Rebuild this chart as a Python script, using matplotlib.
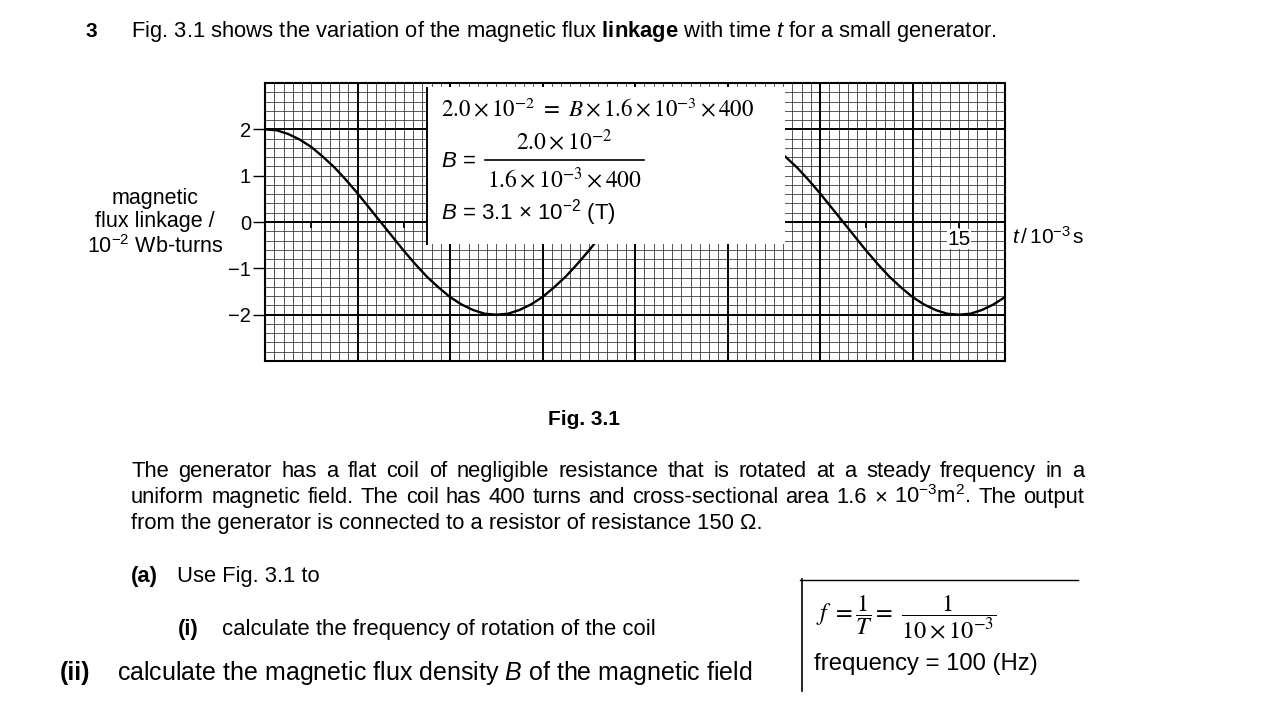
import numpy as np
import matplotlib
matplotlib.use('Agg')
import matplotlib.pyplot as plt
from matplotlib.patches import Rectangle
from matplotlib.lines import Line2D

plt.rcParams['font.family'] = ['Liberation Sans', 'DejaVu Sans']
plt.rcParams['mathtext.fontset'] = 'custom'
plt.rcParams['mathtext.rm'] = 'Liberation Sans'
plt.rcParams['mathtext.it'] = 'Liberation Sans:italic'
plt.rcParams['mathtext.bf'] = 'Liberation Sans:bold'
plt.rcParams['mathtext.sf'] = 'Liberation Sans'

# flux linkage (10^-2 Wb-turns), every 0.25 ms
t_ms = [i * 0.25 for i in range(65)]
flux = [2.00, 1.98, 1.90, 1.78, 1.62, 1.41, 1.18, 0.91, 0.62, 0.31,
        0.00, -0.31, -0.62, -0.91, -1.18, -1.41, -1.62, -1.78, -1.90, -1.98,
        -2.00, -1.98, -1.90, -1.78, -1.62, -1.41, -1.18, -0.91, -0.62, -0.31,
        0.00, 0.31, 0.62, 0.91, 1.18, 1.41, 1.62, 1.78, 1.90, 1.98,
        2.00, 1.98, 1.90, 1.78, 1.62, 1.41, 1.18, 0.91, 0.62, 0.31,
        0.00, -0.31, -0.62, -0.91, -1.18, -1.41, -1.62, -1.78, -1.90, -1.98,
        -2.00, -1.98, -1.90, -1.78, -1.62]

y_ticks = [-2, -1, 0, 1, 2]
y_ticklabels = ['\u22122', '\u22121', '0', '1', '2']
x_marks = list(range(1, 16))
x_label_at = 15

W, H = 1280, 720
fig = plt.figure(figsize=(12.8, 7.2), dpi=100)
renderer = fig.canvas.get_renderer()


def put(x, y, s, **kw):
    kw.setdefault('va', 'baseline')
    return fig.text(x / W, 1 - y / H, s, **kw)


def justify(line, x0, x1, y, **kw):
    words = line.split(' ')
    texts = [put(0, y, w, **kw) for w in words]
    widths = [t.get_window_extent(renderer).width for t in texts]
    gap = (x1 - x0 - sum(widths)) / (len(words) - 1)
    x = x0
    for t, w in zip(texts, widths):
        t.set_x(x / W)
        x += w + gap


# ---- graph ----
ax = fig.add_axes([265 / W, 1 - 361 / H, 740 / W, 278 / H])
ax.set_xlim(0, 16)
ax.set_ylim(-3, 3)

for v in np.arange(0, 16.01, 0.2):
    ax.axvline(v, color='#3c3c3c', lw=0.6, zorder=1)
for v in np.arange(-3, 3.01, 0.2):
    ax.axhline(v, color='#3c3c3c', lw=0.6, zorder=1)
for v in np.arange(0, 16.01, 2):
    ax.axvline(v, color='black', lw=1.4, zorder=1.5)
for v in np.arange(-2, 2.01, 2):
    ax.axhline(v, color='black', lw=1.4, zorder=1.5)

ax.vlines(x_marks, -0.14, 0, color='black', lw=1.3, zorder=2)
ax.plot(t_ms, flux, color='black', lw=1.7, zorder=3, solid_capstyle='butt')

ax.text(x_label_at, -0.37, str(x_label_at), ha='center', va='center', fontsize=15,
        bbox=dict(facecolor='white', edgecolor='none', pad=0.5), zorder=4)

for s in ax.spines.values():
    s.set_linewidth(1.5)
ax.set_xticks([])
ax.set_yticks(y_ticks)
ax.set_yticklabels(y_ticklabels)
ax.tick_params(axis='y', length=9, width=1.0, labelsize=14.5, pad=1)

# white working box pasted over the graph
ax.add_patch(Rectangle((3.5, -0.47), 7.74, 3.39, facecolor='white', edgecolor='none', zorder=6))
ax.plot([3.5, 3.5], [-0.47, 2.9], color='black', lw=1.4, zorder=7)

put(155, 223, 'magnetic\nflux linkage /\n10$^{-2}$ Wb-turns', ha='center', va='center',
    fontsize=15.5, multialignment='center', linespacing=1.15)
put(1012, 244, r'$\mathit{t}\,$/$\,$10$^{-3}\,$s', fontsize=15)

# ---- working inside the box ----
put(441, 116, r'$2.0\times10^{-2}\ =\ B\times1.6\times10^{-3}\times400$', fontsize=16.6,
    math_fontfamily='stix')
put(441, 167, r'$B$ =', fontsize=16)
put(564, 150, r'$2.0\times10^{-2}$', ha='center', fontsize=17, math_fontfamily='stix')
fig.add_artist(Line2D([485 / W, 644 / W], [1 - 160 / H, 1 - 160 / H], color='black', lw=1.2))
put(564, 188, r'$1.6\times10^{-3}\times400$', ha='center', fontsize=17, math_fontfamily='stix')
put(441, 219, r'$B$ = 3.1 $\times$ 10$^{-2}$ (T)', fontsize=16)

# ---- question text ----
put(85, 37, '3', fontsize=15, fontweight='bold')
put(131, 37, r'Fig. 3.1 shows the variation of the magnetic flux $\mathbf{linkage}$ with time '
    r'$\mathit{t}$ for a small generator.', fontsize=15.8)
put(584, 425, 'Fig. 3.1', ha='center', fontsize=15, fontweight='bold')

para = ['The generator has a flat coil of negligible resistance that is rotated at a steady frequency in a',
        'uniform magnetic field. The coil has 400 turns and cross-sectional area 1.6 \u00d7 10$^{-3}$m$^{2}$. The output',
        'from the generator is connected to a resistor of resistance 150 \u03a9.']
justify(para[0], 131, 1084, 477, fontsize=15.8)
justify(para[1], 131, 1084, 503, fontsize=15.8)
put(131, 529, para[2], fontsize=15.8)

put(131, 582, '(a)', fontsize=15.8, fontweight='bold')
put(177, 582, 'Use Fig. 3.1 to', fontsize=15.8)
put(178, 635, '(i)', fontsize=15.8, fontweight='bold')
put(222, 635, 'calculate the frequency of rotation of the coil', fontsize=15.9)
put(60, 680, '(ii)', fontsize=18, fontweight='bold')
put(117, 680, r'calculate the magnetic flux density $\mathit{B}$ of the magnetic field', fontsize=18)

# ---- answer box for (i) ----
fig.add_artist(Line2D([800 / W, 1078 / W], [1 - 580 / H, 1 - 580 / H], color='black', lw=1.0))
fig.add_artist(Line2D([802 / W, 802 / W], [1 - 579 / H, 1 - 691 / H], color='black', lw=1.2))
put(816, 617, r'$f\ =\dfrac{1}{T}=\ \dfrac{1}{10\times10^{-3}}$', va='center', fontsize=17.5,
    math_fontfamily='stix')
put(814, 670, 'frequency = 100 (Hz)', fontsize=17.2)

fig.savefig('out.png', dpi=100)
